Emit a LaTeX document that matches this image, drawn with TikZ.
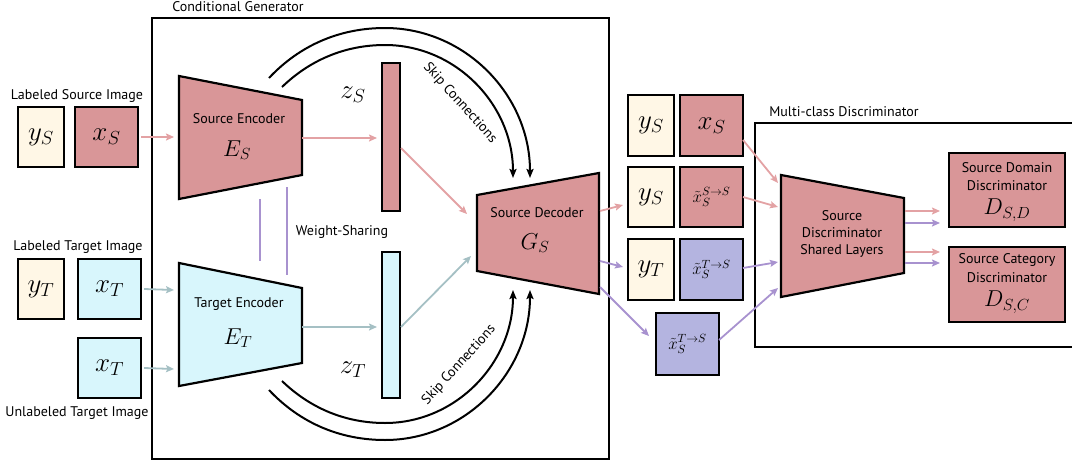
\RequirePackage{fix-cm}
\documentclass[tikz,border=0pt]{standalone}
\usepackage{fontspec}
\setmainfont{PT Sans}
\usetikzlibrary{arrows.meta}
\definecolor{pinkfill}{HTML}{D99698}
\definecolor{creamfill}{HTML}{FFF7E6}
\definecolor{cyanfill}{HTML}{D8F6FC}
\definecolor{lavfill}{HTML}{B4B4E0}
\definecolor{pinkarrow}{HTML}{E3A2A4}
\definecolor{tealarrow}{HTML}{A5C0C4}
\definecolor{purparrow}{HTML}{A892CF}
\begin{document}
\begin{tikzpicture}[x=1pt,y=-1pt,
  bx/.style={draw=black, line width=2.2pt, inner sep=0pt},
  lab/.style={font=\fontsize{14}{16}\selectfont, inner sep=0pt},
  bigm/.style={font=\fontsize{27}{29}\selectfont},
  midm/.style={font=\fontsize{23}{25}\selectfont},
  smm/.style={font=\fontsize{17}{19}\selectfont},
  trap/.style={draw=black, line width=2.2pt, line join=miter},
  parr/.style={draw=pinkarrow, line width=1.8pt, -{Stealth[length=8pt,width=7pt,inset=1.5pt]}},
  tarr/.style={draw=tealarrow, line width=1.8pt, -{Stealth[length=8pt,width=7pt,inset=1.5pt]}},
  varr/.style={draw=purparrow, line width=1.8pt, -{Stealth[length=8pt,width=7pt,inset=1.5pt]}},
  skiparr/.style={draw=black, line width=2pt, -{Stealth[length=9pt,width=7pt,inset=1.5pt]}},
  wline/.style={draw=purparrow, line width=1.8pt},
  frame/.style={draw=black, line width=2pt}
]
\useasboundingbox (0,0) rectangle (1072,461);
\clip (0,0) rectangle (1072,461);

% frames
\draw[frame] (152,18) rectangle (609,459);
\node[lab] (cgtitle) at (238,7) {Conditional Generator};
\draw[frame] (755,123) rectangle (1090,347);
\node[lab] (mdtitle) at (844,112) {Multi-class Discriminator};

% left inputs
\node[lab] (lsi) at (77,96) {Labeled Source Image};
\node[bx, fill=creamfill, minimum width=46pt, minimum height=60pt, bigm] (yS1) at (41,137) {$y_S$};
\node[bx, fill=pinkfill, minimum width=63pt, minimum height=60pt, bigm] (xS1) at (106.5,137) {$x_S$};
\node[lab] (lti) at (78,247) {Labeled Target Image};
\node[bx, fill=creamfill, minimum width=46pt, minimum height=60pt, bigm] (yT1) at (41,289) {$y_T$};
\node[bx, fill=cyanfill, minimum width=63pt, minimum height=60pt, bigm] (xT1) at (109.5,289) {$x_T$};
\node[bx, fill=cyanfill, minimum width=63pt, minimum height=60pt, bigm] (xT2) at (109.5,368) {$x_T$};
\node[lab] (uti) at (77,413) {Unlabeled Target Image};

% encoders
\filldraw[trap, fill=pinkfill] (179,76) -- (302,100) -- (302,175) -- (179,199) -- cycle;
\node[lab] (encS) at (239,119) {Source Encoder};
\node[midm] (ES) at (237,150) {$E_S$};
\filldraw[trap, fill=cyanfill] (179,263) -- (302,288) -- (302,363) -- (179,386) -- cycle;
\node[lab] (encT) at (239,304) {Target Encoder};
\node[midm] (ET) at (238,338) {$E_T$};
\coordinate (encSin) at (174,137);
\coordinate (encSout) at (302,138);
\coordinate (encTin1) at (174,290);
\coordinate (encTin2) at (174,369);
\coordinate (encTout) at (302,327);

% weight sharing
\coordinate (ws1a) at (260,199);
\coordinate (ws1b) at (260,261);
\coordinate (ws2a) at (287,187);
\coordinate (ws2b) at (287,275);
\draw[wline] (ws1a) -- (ws1b);
\draw[wline] (ws2a) -- (ws2b);
\node[lab] (wsl) at (342,232) {Weight-Sharing};

% latent bars
\node[bx, fill=pinkfill, minimum width=18pt, minimum height=148pt] (zSbar) at (391,137) {};
\node[bigm] (zS) at (353,95) {$z_S$};
\node[bx, fill=cyanfill, minimum width=18pt, minimum height=146pt] (zTbar) at (391,325) {};
\node[bigm] (zT) at (353,370) {$z_T$};

% decoder
\filldraw[trap, fill=pinkfill] (477,195) -- (599,173) -- (599,294) -- (477,271) -- cycle;
\node[lab] (dec) at (537,213) {Source Decoder};
\node[midm] (GS) at (535,243) {$G_S$};
\coordinate (decin1) at (467,214);
\coordinate (decin2) at (471,256);
\coordinate (decout1) at (600,211);
\coordinate (decout2) at (600,261);
\coordinate (decout3) at (600,287);

% generator arrows
\draw[parr] ([xshift=2pt]xS1.east) -- (encSin);
\draw[tarr] ([xshift=2pt]xT1.east) -- (encTin1);
\draw[tarr] ([xshift=2pt]xT2.east) -- (encTin2);
\coordinate (zSin) at (377,138);
\coordinate (zTin) at (377,327);
\coordinate (zSout) at (401,148);
\coordinate (zTout) at (401,327);
\draw[parr] (encSout) -- (zSin);
\draw[tarr] (encTout) -- (zTin);
\draw[parr] (zSout) -- (decin1);
\draw[tarr] (zTout) -- (decin2);

% skip connections
\coordinate (skA) at (269,78);
\coordinate (skB) at (282,87);
\coordinate (skC) at (269,390);
\coordinate (skD) at (282,381);
\coordinate (dtA) at (530,178);
\coordinate (dtB) at (513,178);
\coordinate (dtC) at (530,290);
\coordinate (dtD) at (513,290);
\draw[skiparr] (skA) .. controls (300,45) and (340,28) .. (385,28) .. controls (465,28) and (530,95) .. (dtA);
\draw[skiparr] (skB) .. controls (310,60) and (345,45) .. (385,45) .. controls (456,45) and (513,105) .. (dtB);
\draw[skiparr] (skC) .. controls (300,423) and (340,440) .. (385,440) .. controls (465,440) and (530,373) .. (dtC);
\draw[skiparr] (skD) .. controls (310,408) and (345,423) .. (385,423) .. controls (456,423) and (513,363) .. (dtD);
\node[lab, rotate=-48] (skt) at (460,103) {Skip Connections};
\node[lab, rotate=48] (skb) at (459,365) {Skip Connections};

% generated samples
\node[bx, fill=creamfill, minimum width=46pt, minimum height=61pt, bigm] (yS2) at (651,125.5) {$y_S$};
\node[bx, fill=pinkfill, minimum width=63pt, minimum height=61pt, bigm] (xS2) at (711.5,125.5) {$x_S$};
\node[bx, fill=creamfill, minimum width=46pt, minimum height=60pt, bigm] (yS3) at (651,197) {$y_S$};
\node[bx, fill=pinkfill, minimum width=63pt, minimum height=60pt, smm] (xSS) at (711.5,197) {$\tilde{x}_S^{S\to S}$};
\node[bx, fill=creamfill, minimum width=46pt, minimum height=61pt, bigm] (yT2) at (651,269.5) {$y_T$};
\node[bx, fill=lavfill, minimum width=63pt, minimum height=61pt, smm] (xTS1) at (711.5,269.5) {$\tilde{x}_S^{T\to S}$};
\node[bx, fill=lavfill, minimum width=63pt, minimum height=62pt, smm] (xTS2) at (687.5,344) {$\tilde{x}_S^{T\to S}$};
\coordinate (yS3in) at (623,205);
\coordinate (yT2in) at (623,267);
\coordinate (xTS2in) at (649,336);
\draw[parr] (decout1) -- (yS3in);
\draw[varr] (decout2) -- (yT2in);
\draw[varr] (decout3) -- (xTS2in);

% discriminator
\filldraw[trap, fill=pinkfill] (781,175) -- (904,198) -- (904,273) -- (781,297) -- cycle;
\node[lab, align=center, font=\fontsize{14}{17}\selectfont] (shared) at (842,234) {Source\\Discriminator\\Shared Layers};
\coordinate (shin1) at (778,183);
\coordinate (shin2) at (778,207);
\coordinate (shin3) at (778,262);
\coordinate (shin4) at (778,288);
\draw[parr] (743,140) -- (shin1);
\draw[parr] (743,197) -- (shin2);
\draw[varr] (743,268) -- (shin3);
\draw[varr] (719,340) -- (shin4);

\node[bx, fill=pinkfill, minimum width=116pt, minimum height=74pt] (DD) at (1007,190) {};
\node[lab] (DDt1) at (1007,168) {Source Domain};
\node[lab] (DDt2) at (1007,186) {Discriminator};
\node[midm] (DDm) at (1007,210) {$D_{S,D}$};
\node[bx, fill=pinkfill, minimum width=116pt, minimum height=75pt] (DC) at (1007,284.5) {};
\node[lab] (DCt1) at (1007,260) {Source Category};
\node[lab] (DCt2) at (1007,278) {Discriminator};
\node[midm] (DCm) at (1007,302) {$D_{S,C}$};

\coordinate (sho1) at (905,211);
\coordinate (sho2) at (905,223);
\coordinate (sho3) at (905,252);
\coordinate (sho4) at (905,263);
\coordinate (DDin1) at (940,211);
\coordinate (DDin2) at (940,223);
\coordinate (DCin1) at (940,252);
\coordinate (DCin2) at (940,263);
\draw[parr] (sho1) -- (DDin1);
\draw[varr] (sho2) -- (DDin2);
\draw[parr] (sho3) -- (DCin1);
\draw[varr] (sho4) -- (DCin2);
\end{tikzpicture}
\end{document}
